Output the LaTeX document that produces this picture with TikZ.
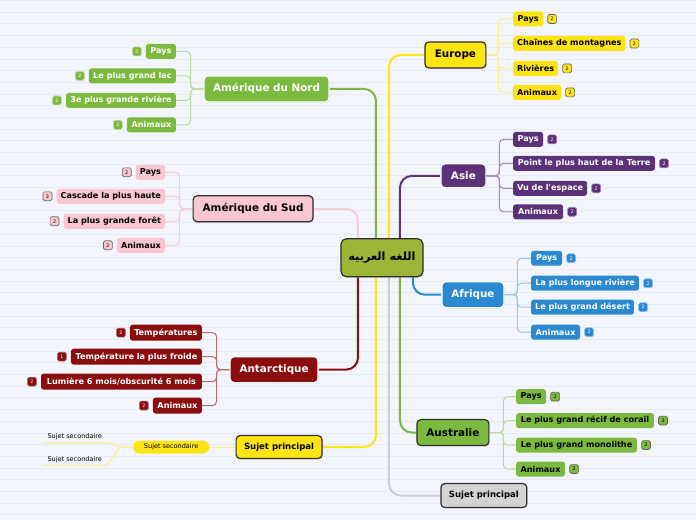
\documentclass[tikz,border=0pt]{standalone}
\usepackage{fontspec}
\setmainfont{DejaVu Sans}[Ligatures=TeXOff]
\newfontfamily\arabicfont[Script=Arabic]{DejaVu Sans}
\TeXXeTstate=1
\usetikzlibrary{shadows}
\definecolor{bgc}{HTML}{F3F5FC}
\definecolor{bgline}{HTML}{E7EAF4}
\definecolor{olivec}{HTML}{9CB536}
\definecolor{border}{HTML}{2E2E2E}
\definecolor{yel}{HTML}{FFE414}
\definecolor{yellight}{HTML}{FFEC8F}
\definecolor{purp}{HTML}{5D3178}
\definecolor{purplight}{HTML}{A387B5}
\definecolor{blu}{HTML}{2A89D0}
\definecolor{blulight}{HTML}{92C5EC}
\definecolor{grn}{HTML}{7CB93F}
\definecolor{grnlight}{HTML}{BADB9A}
\definecolor{pnk}{HTML}{F9C6D1}
\definecolor{pnkline}{HTML}{F8CCD7}
\definecolor{dred}{HTML}{8B0E0E}
\definecolor{dredlight}{HTML}{B46E6E}
\definecolor{gry}{HTML}{D3D3D3}
\definecolor{gryline}{HTML}{CCCCCC}
\definecolor{bdark}{HTML}{666666}
\pgfdeclarelayer{back}
\pgfdeclarelayer{lines}
\pgfsetlayers{back,lines,main}
\tikzset{
  sz/.style 2 args={minimum width=#1*0.75pt, minimum height=#2*0.75pt},
  mainnode/.style={rounded corners=3pt, inner sep=0pt, font=\bfseries\fontsize{7.8}{9}\selectfont,
    line width=0.9pt, drop shadow={opacity=0.25, shadow xshift=0.6pt, shadow yshift=-0.6pt}},
  subnode/.style={rounded corners=2pt, inner xsep=3pt, inner ysep=0pt, minimum height=11.25pt,
    font=\bfseries\fontsize{6.1}{7}\selectfont},
  badge/.style={rounded corners=1.2pt, minimum size=6.7pt, inner sep=0pt,
    font=\fontsize{3.6}{4}\selectfont, line width=0.5pt},
  mainline/.style={line width=1.5pt, rounded corners=9pt},
  subline/.style={line width=0.75pt, rounded corners=3pt},
  smalltext/.style={font=\fontsize{4.9}{6}\selectfont}
}
\begin{document}
\begin{tikzpicture}[x=0.75pt,y=-0.75pt]
\begin{pgfonlayer}{back}
\fill[bgc] (0,0) rectangle (696,520);
\foreach \k in {0,...,44} {
  \draw[bgline, line width=0.5pt] (0,{0.4+\k*11.7}) -- (696,{0.4+\k*11.7});
}
\end{pgfonlayer}
\useasboundingbox (0,0) rectangle (696,520);

% center
\node[mainnode, draw=border, fill=olivec, sz={82}{38}, rounded corners=4pt,
  font=\arabicfont\bfseries\fontsize{8.5}{10}\selectfont] (c) at (382,258) {\beginR اللغه العربيه\endR};

% main nodes
\node[mainnode, draw=border, fill=yel, sz={61}{26}] (eu) at (455.5,55) {Europe};
\node[mainnode, draw=white, fill=purp, text=white, sz={45}{24}] (as) at (463.5,176) {Asie};
\node[mainnode, draw=white, fill=blu, text=white, sz={62}{26}] (af) at (473,295) {Afrique};
\node[mainnode, draw=border, fill=grn, sz={72}{26}] (au) at (453,433) {Australie};
\node[mainnode, draw=border, fill=gry, sz={86}{24}, font=\bfseries\fontsize{6.4}{8}\selectfont] (gp) at (484,496) {Sujet principal};
\node[mainnode, draw=white, fill=grn, text=white, sz={125}{26}] (an) at (266.5,89) {Amérique du Nord};
\node[mainnode, draw=border, fill=pnk, sz={120}{26}] (sa) at (253,209) {Amérique du Sud};
\node[mainnode, draw=white, fill=dred, text=white, sz={88}{26}] (at) at (274,370) {Antarctique};
\node[mainnode, draw=border, fill=yel, sz={86}{23}, font=\bfseries\fontsize{6.4}{8}\selectfont] (yp) at (279,447.5) {Sujet principal};

% main connectors
\begin{pgfonlayer}{lines}
\draw[mainline, grn] ([xshift=-4.5pt]c.north) |- (an.east);
\draw[mainline, yel] ([xshift=5.25pt]c.north) |- (eu.west);
\draw[mainline, purp] ([xshift=13.5pt]c.north) |- (as.west);
\draw[mainline, pnkline] ([xshift=-18pt]c.north) |- (sa.east);
\draw[mainline, dred] ([xshift=-18pt]c.south) |- (at.east);
\draw[mainline, yel] ([xshift=-4.5pt]c.south) |- (yp.east);
\draw[mainline, gryline] ([xshift=5.25pt]c.south) |- (gp.west);
\draw[mainline, grn] ([xshift=13.5pt]c.south) |- (au.west);
\draw[mainline, blu] ([xshift=23.25pt]c.south) |- (af.west);
\end{pgfonlayer}

% Europe children
\foreach \n/\y/\w/\b/\t in {1/19/30/2/Pays, 2/43.5/112/2/{Chaînes de montagnes}, 3/68.5/45/2/Rivières, 4/92.5/48/2/Animaux} {
  \node[subnode, fill=yel, sz={\w}{15}, anchor=west] (eu\n) at (513,\y) {\t};
  \node[badge, fill=yel, draw=bdark, anchor=west] (eub\n) at ([xshift=3pt]eu\n.east) {\b};
  \begin{pgfonlayer}{lines}
  \draw[subline, yellight] (eu.east) -- ([xshift=9pt]eu.east) |- (eu\n.west);
  \end{pgfonlayer}
}
% Asie children
\foreach \n/\y/\w/\b/\t in {1/139.5/30/2/Pays, 2/163.5/142/2/{Point le plus haut de la Terre}, 3/188.5/74/2/{Vu de l'espace}, 4/212/50/2/Animaux} {
  \node[subnode, fill=purp, text=white, sz={\w}{15}, anchor=west] (as\n) at (513,\y) {\t};
  \node[badge, fill=purp, draw=purplight, text=white, anchor=west] (asb\n) at ([xshift=3pt]as\n.east) {\b};
  \begin{pgfonlayer}{lines}
  \draw[subline, purplight] (as.east) -- ([xshift=9.75pt]as.east) |- (as\n.west);
  \end{pgfonlayer}
}
% Afrique children
\foreach \n/\y/\w/\b/\t in {1/258.5/31/2/Pays, 2/283.5/108/2/{La plus longue rivière}, 3/307.5/103/2/{Le plus grand désert}, 4/332.5/49/2/Animaux} {
  \node[subnode, fill=blu, text=white, sz={\w}{15}, anchor=west] (af\n) at (531,\y) {\t};
  \node[badge, fill=blu, draw=blulight, text=white, anchor=west] (afb\n) at ([xshift=3pt]af\n.east) {\b};
  \begin{pgfonlayer}{lines}
  \draw[subline, blulight] (af.east) -- ([xshift=9.75pt]af.east) |- (af\n.west);
  \end{pgfonlayer}
}
% Australie children
\foreach \n/\y/\w/\b/\t in {1/397/30/2/Pays, 2/421/138/3/{Le plus grand récif de corail}, 3/445.5/121/2/{Le plus grand monolithe}, 4/469.5/49/2/Animaux} {
  \node[subnode, fill=grn, sz={\w}{15}, anchor=west] (au\n) at (516,\y) {\t};
  \node[badge, fill=grn, draw=bdark, anchor=west] (aub\n) at ([xshift=3pt]au\n.east) {\b};
  \begin{pgfonlayer}{lines}
  \draw[subline, grnlight] (au.east) -- ([xshift=10.5pt]au.east) |- (au\n.west);
  \end{pgfonlayer}
}
% Amerique du Nord children
\foreach \n/\y/\w/\b/\t in {1/51.5/30/2/Pays, 2/76/87/2/{Le plus grand lac}, 3/100.5/110/2/{3e plus grande rivière}, 4/125/49/2/Animaux} {
  \node[subnode, fill=grn, text=white, sz={\w}{15}, anchor=east] (an\n) at (176,\y) {\t};
  \node[badge, fill=grn, draw=grnlight, text=white, anchor=east] (anb\n) at ([xshift=-3pt]an\n.west) {\b};
  \begin{pgfonlayer}{lines}
  \draw[subline, grnlight] (an.west) -- ([xshift=-9.75pt]an.west) |- (an\n.east);
  \end{pgfonlayer}
}
% Amerique du Sud children
\foreach \n/\y/\w/\b/\t in {1/172.5/29/2/Pays, 2/196.5/107/3/{Cascade la plus haute}, 3/221.5/101/2/{La plus grande forêt}, 4/245.5/48/2/Animaux} {
  \node[subnode, fill=pnk, sz={\w}{15}, anchor=east] (sa\n) at (165,\y) {\t};
  \node[badge, fill=pnk, draw=bdark, anchor=east] (sab\n) at ([xshift=-3pt]sa\n.west) {\b};
  \begin{pgfonlayer}{lines}
  \draw[subline, pnkline] (sa.west) -- ([xshift=-9.75pt]sa.west) |- (sa\n.east);
  \end{pgfonlayer}
}
% Antarctique children
\foreach \n/\y/\w/\b/\t in {1/333/72/2/Températures, 2/357/131/1/{Température la plus froide}, 3/382/161/2/{Lumière 6 mois/obscurité 6 mois}, 4/406/49/2/Animaux} {
  \node[subnode, fill=dred, text=white, sz={\w}{16}, anchor=east] (at\n) at (202,\y) {\t};
  \node[badge, fill=dred, draw=dredlight, text=white, anchor=east] (atb\n) at ([xshift=-3pt]at\n.west) {\b};
  \begin{pgfonlayer}{lines}
  \draw[subline, dredlight] (at.west) -- ([xshift=-9.75pt]at.west) |- (at\n.east);
  \end{pgfonlayer}
}

% Sujet secondaire
\node[smalltext, fill=yel, rounded corners=4.8pt, inner sep=0pt, sz={76}{13}] (ss) at (171,447.5) {Sujet secondaire};
\node[smalltext, anchor=south west, inner xsep=3.75pt, inner ysep=1.6pt] (ss1) at (42,443) {Sujet secondaire};
\node[smalltext, anchor=south west, inner xsep=3.75pt, inner ysep=1.6pt] (ss2) at (42,465.5) {Sujet secondaire};
\begin{pgfonlayer}{lines}
\draw[subline, yellight, rounded corners=0pt] (yp.west) -- (ss.east);
\draw[subline, yellight, rounded corners=0pt] (ss.west) -- ++(-9.75pt,0) -- (ss1.south east) -- (ss1.south west);
\draw[subline, yellight, rounded corners=0pt] (ss.west) -- ++(-9.75pt,0) -- (ss2.south east) -- (ss2.south west);
\end{pgfonlayer}
\end{tikzpicture}
\end{document}
